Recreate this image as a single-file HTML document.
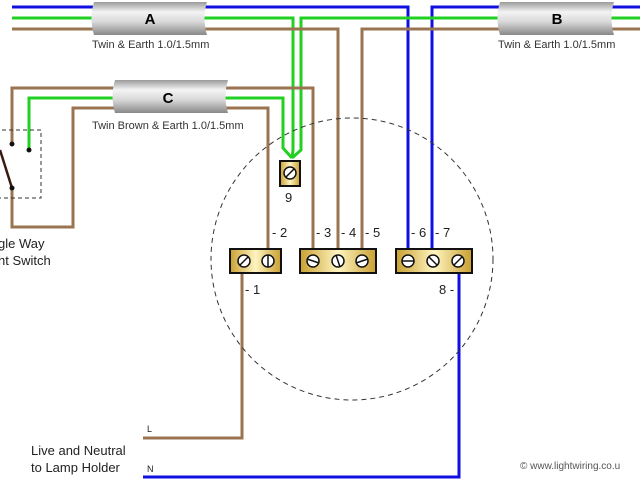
<!DOCTYPE html>
<html><head><meta charset="utf-8"><style>
html,body{margin:0;padding:0;background:#fff;width:640px;height:480px;overflow:hidden}
text{font-family:"Liberation Sans",sans-serif}
</style></head><body>
<svg width="640" height="480" viewBox="0 0 640 480" xmlns="http://www.w3.org/2000/svg">
<defs>
<linearGradient id="cab" x1="0" y1="0" x2="0" y2="1">
<stop offset="0" stop-color="#9a9a9a"/><stop offset="0.3" stop-color="#f4f4f4"/><stop offset="0.6" stop-color="#d8d8d8"/><stop offset="1" stop-color="#888"/>
</linearGradient>
<linearGradient id="brass" x1="0" y1="0" x2="1" y2="0">
<stop offset="0" stop-color="#c9a032"/><stop offset="0.5" stop-color="#fff4c0"/><stop offset="1" stop-color="#c9a032"/>
</linearGradient>
</defs>
<g fill="none" stroke-width="3">
<polyline points="12,7 408,7 408,248" stroke="#1010e0"/>
<polyline points="640,7 432,7 432,248" stroke="#1010e0"/>
<polyline points="459,272 459,477 143,477" stroke="#1010e0"/>
<polyline points="12,18 293,18 293,150 292,158" stroke="#22d022"/>
<polyline points="640,18 301,18 301,150 292,158" stroke="#22d022"/>
<polyline points="29,150 29,98 283,98 283,148 292,158" stroke="#22d022"/>
<g stroke="#9a7350">
<polyline points="12,29 338,29 338,248"/>
<polyline points="640,29 362,29 362,248"/>
<polyline points="12,144 12,88 313,88 313,248"/>
<polyline points="12,188 12,227 73,227 73,108 268,108 268,248"/>
<polyline points="242,272 242,438 143,438"/>
</g>
</g>
<rect x="-5" y="130" width="46" height="68" fill="none" stroke="#333" stroke-width="1" stroke-dasharray="4,3"/>
<line x1="0" y1="150" x2="12" y2="188" stroke="#3a1a10" stroke-width="2.5"/>
<circle cx="12" cy="144" r="2.5" fill="#111"/><circle cx="29" cy="150" r="2.5" fill="#111"/><circle cx="12" cy="188" r="2.5" fill="#111"/>
<circle cx="352" cy="259" r="141" fill="none" stroke="#333" stroke-width="1" stroke-dasharray="5,4"/>
<g>
<path d="M94,2 H207 Q202,18 207,35 H94 Q89,18 94,2 Z" fill="url(#cab)"/>
<path d="M500,2 H614 Q609,18 614,35 H500 Q495,18 500,2 Z" fill="url(#cab)"/>
<path d="M115,80 H228 Q223,96 228,113 H115 Q110,96 115,80 Z" fill="url(#cab)"/>
</g>
<text x="150" y="24" font-size="15" font-weight="bold" text-anchor="middle">A</text>
<text x="557" y="24" font-size="15" font-weight="bold" text-anchor="middle">B</text>
<text x="168" y="103" font-size="15" font-weight="bold" text-anchor="middle">C</text>
<g font-size="11" fill="#333">
<text x="92" y="48">Twin &amp; Earth 1.0/1.5mm</text>
<text x="498" y="48">Twin &amp; Earth 1.0/1.5mm</text>
<text x="92" y="129">Twin Brown &amp; Earth 1.0/1.5mm</text>
</g>
<g stroke="#111" stroke-width="2" fill="url(#brass)">
<rect x="280" y="161" width="20" height="25"/>
<rect x="230" y="249" width="51" height="24"/>
<rect x="300" y="249" width="76" height="24"/>
<rect x="396" y="249" width="76" height="24"/>
</g>
<g fill="#fff" stroke="#111" stroke-width="1.5">
<circle cx="290" cy="173" r="6"/>
<circle cx="244" cy="261" r="6"/><circle cx="268" cy="261" r="6"/>
<circle cx="313" cy="261" r="6"/><circle cx="338" cy="261" r="6"/><circle cx="362" cy="261" r="6"/>
<circle cx="408" cy="261" r="6"/><circle cx="433" cy="261" r="6"/><circle cx="458" cy="261" r="6"/>
</g>
<g stroke="#111" stroke-width="1.5">
<line x1="286" y1="177" x2="294" y2="169"/>
<line x1="240" y1="265" x2="248" y2="257"/><line x1="268" y1="255" x2="268" y2="267"/>
<line x1="307" y1="259" x2="319" y2="263"/><line x1="336" y1="255" x2="340" y2="267"/><line x1="356" y1="263" x2="368" y2="259"/>
<line x1="402" y1="261" x2="414" y2="261"/><line x1="429" y1="257" x2="437" y2="265"/><line x1="454" y1="265" x2="462" y2="257"/>
</g>
<g font-size="13" fill="#222">
<text x="285" y="202">9</text>
<text x="272" y="237">- 2</text>
<text x="316" y="237">- 3</text>
<text x="341" y="237">- 4</text>
<text x="365" y="237">- 5</text>
<text x="411" y="237">- 6</text>
<text x="435" y="237">- 7</text>
<text x="245" y="294">- 1</text>
<text x="439" y="294">8 -</text>
</g>
<g font-size="13" fill="#222">
<text x="-2" y="248">gle Way</text>
<text x="-2" y="265">ht Switch</text>
<text x="31" y="455">Live and Neutral</text>
<text x="31" y="472">to Lamp Holder</text>
</g>
<text x="147" y="432" font-size="9" fill="#222">L</text>
<text x="147" y="472" font-size="9" fill="#222">N</text>
<text x="520" y="469" font-size="10" fill="#555">© www.lightwiring.co.u</text>
</svg>
</body></html>
